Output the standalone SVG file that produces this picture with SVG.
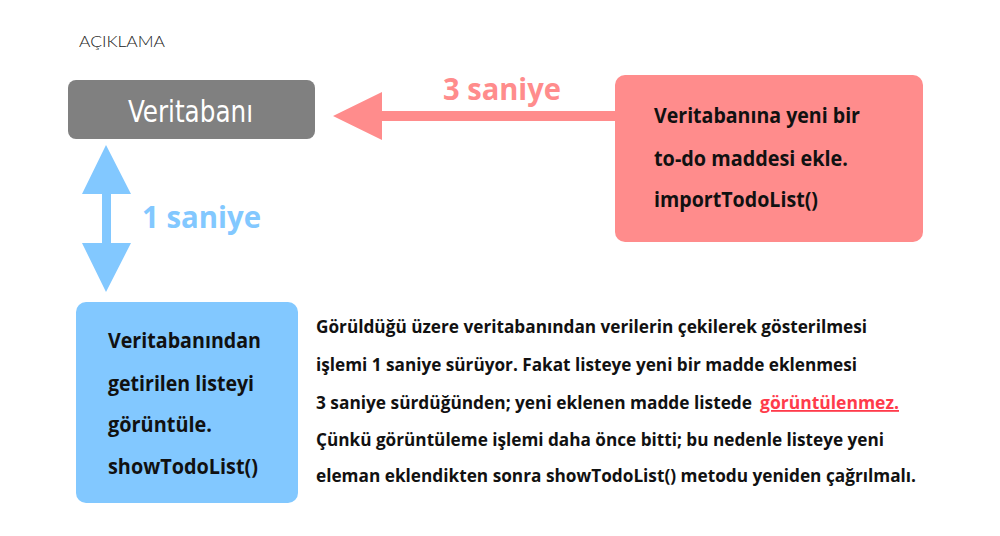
<svg xmlns="http://www.w3.org/2000/svg" width="1000" height="536" viewBox="0 0 1000 536">
<style>
.b{font-family:"Open Sans","Noto Sans","Liberation Sans",sans-serif;font-weight:700;font-size:21px;fill:#111}
.p{font-size:18px}
.big{font-family:"Open Sans","Noto Sans","Liberation Sans",sans-serif;font-weight:700;font-size:31px}
</style>
<rect width="1000" height="536" fill="#fff"/>
<text x="79" y="47" font-family="Lato,'Noto Sans',sans-serif" font-weight="300" font-size="15" fill="#222" textLength="86" lengthAdjust="spacingAndGlyphs">AÇIKLAMA</text>
<g id="connectors">
  <polygon points="333,116 382,92 382,111 615,111 615,121 382,121 382,140" fill="#ff8c8c"/>
  <polygon points="106,145 131,194 111,194 111,243 131,243 106,292 82,243 102,243 102,194 82,194" fill="#82c8ff"/>
  <text class="big" x="443" y="100" fill="#ff8c8c" textLength="118" lengthAdjust="spacingAndGlyphs">3 saniye</text>
  <text class="big" x="142" y="228" fill="#82c8ff" textLength="119" lengthAdjust="spacingAndGlyphs">1 saniye</text>
</g>
<g id="veritabani">
  <rect x="68" y="80" width="247" height="59" rx="8" fill="#808080"/>
  <text x="128" y="122" font-family="'DejaVu Sans Condensed','Noto Sans',sans-serif" font-size="31" fill="#fff" textLength="125" lengthAdjust="spacingAndGlyphs">Veritabanı</text>
</g>
<g id="import">
  <rect x="615" y="75" width="308" height="167" rx="10" fill="#ff8c8c"/>
  <text class="b" x="654" y="123" textLength="206" lengthAdjust="spacingAndGlyphs">Veritabanına yeni bir</text>
  <text class="b" x="654" y="166" textLength="194" lengthAdjust="spacingAndGlyphs">to-do maddesi ekle.</text>
  <text class="b" x="654" y="207" textLength="164" lengthAdjust="spacingAndGlyphs">importTodoList()</text>
</g>
<g id="show">
  <rect x="76" y="302" width="222" height="201" rx="10" fill="#82c8ff"/>
  <text class="b" x="108" y="348" textLength="153" lengthAdjust="spacingAndGlyphs">Veritabanından</text>
  <text class="b" x="108" y="391" textLength="146" lengthAdjust="spacingAndGlyphs">getirilen listeyi</text>
  <text class="b" x="108" y="432" textLength="104" lengthAdjust="spacingAndGlyphs">görüntüle.</text>
  <text class="b" x="108" y="474" textLength="150" lengthAdjust="spacingAndGlyphs">showTodoList()</text>
</g>
<g id="note">
  <text class="b p" x="316" y="333" textLength="551" lengthAdjust="spacingAndGlyphs">Görüldüğü üzere veritabanından verilerin çekilerek gösterilmesi</text>
  <text class="b p" x="316" y="371" textLength="541" lengthAdjust="spacingAndGlyphs">işlemi 1 saniye sürüyor. Fakat listeye yeni bir madde eklenmesi</text>
  <text class="b p" x="316" y="409" textLength="436" lengthAdjust="spacingAndGlyphs">3 saniye sürdüğünden; yeni eklenen madde listede</text>
  <text class="b p" x="760" y="409" text-decoration="underline" textLength="139" lengthAdjust="spacingAndGlyphs" style="fill:#ff3b4b">görüntülenmez.</text>
  <text class="b p" x="316" y="446" textLength="568" lengthAdjust="spacingAndGlyphs">Çünkü görüntüleme işlemi daha önce bitti; bu nedenle listeye yeni</text>
  <text class="b p" x="316" y="482" textLength="600" lengthAdjust="spacingAndGlyphs">eleman eklendikten sonra showTodoList() metodu yeniden çağrılmalı.</text>
</g>
</svg>
